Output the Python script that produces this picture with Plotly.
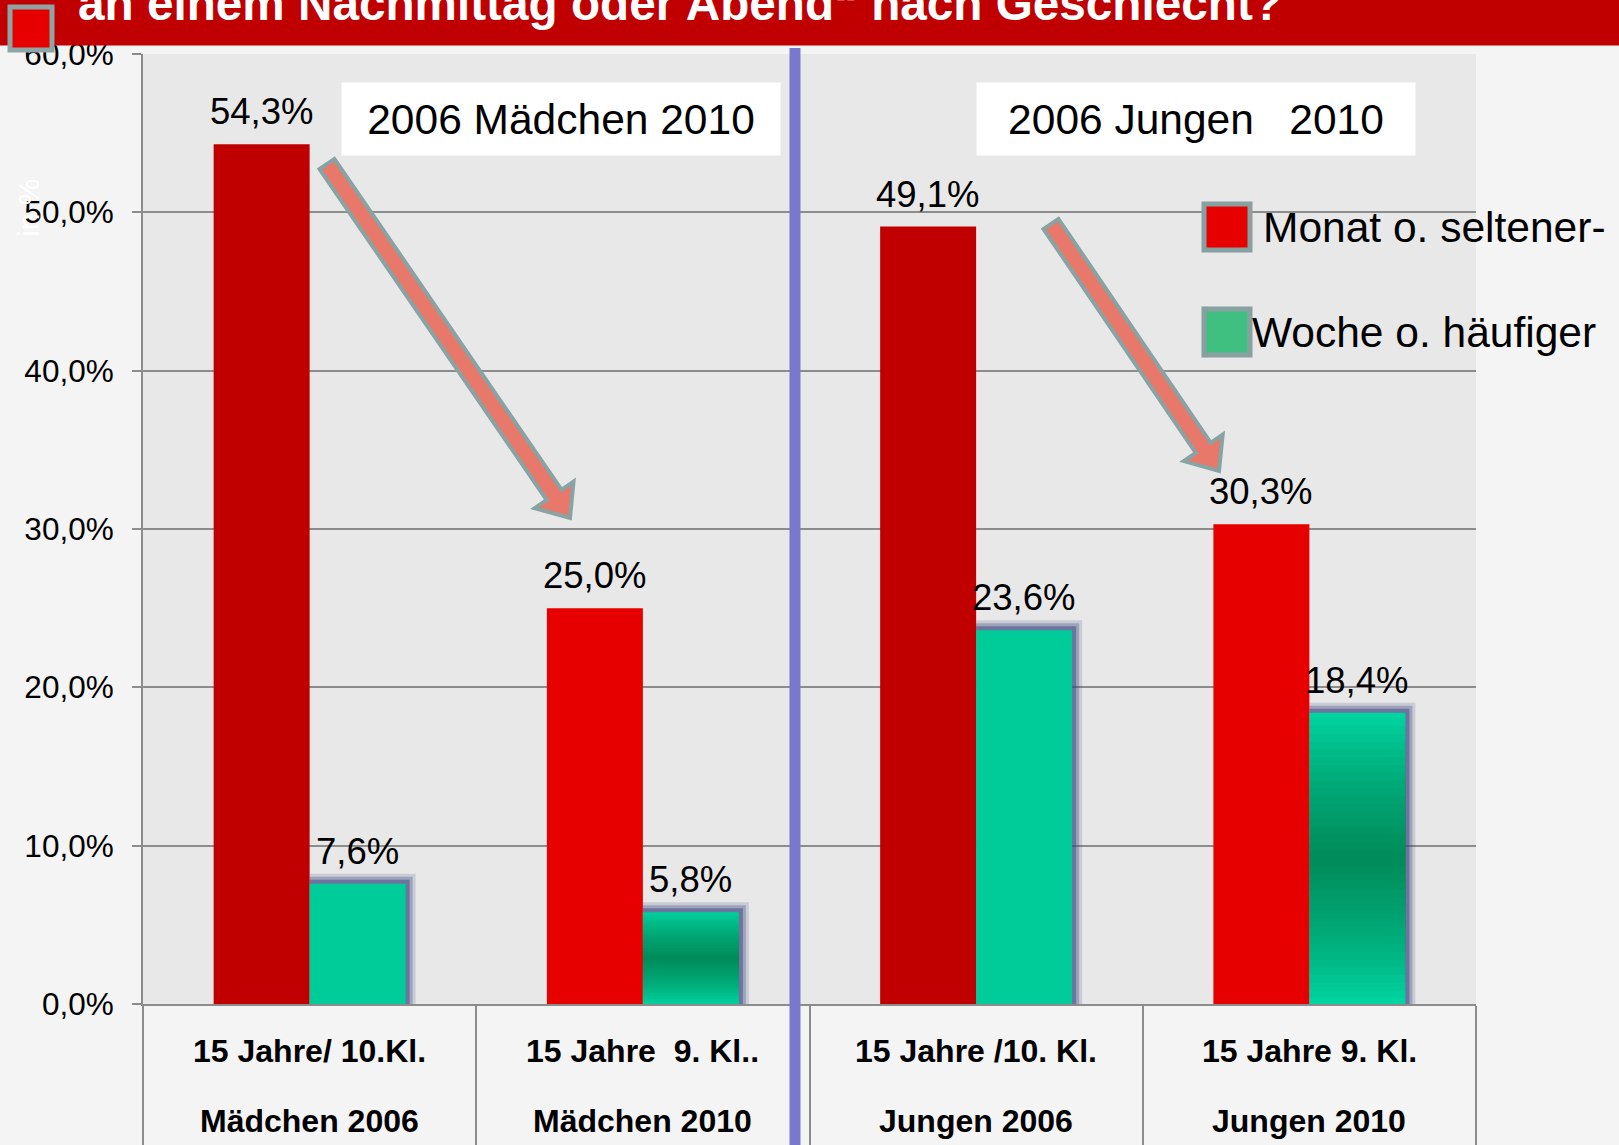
import plotly.graph_objects as go

# data
categories = ["Mädchen 2006", "Mädchen 2010", "Jungen 2006", "Jungen 2010"]
line1_labels = ["15 Jahre/ 10.Kl.", "15 Jahre\u00a0\u00a09. Kl..", "15 Jahre /10. Kl.", "15 Jahre 9. Kl."]
monat_values = [54.3, 25.0, 49.1, 30.3]
woche_values = [7.6, 5.8, 23.6, 18.4]
series_names = ["Monat o. seltener-", "Woche o. häufiger"]
box_labels = ["2006 Mädchen 2010", "2006 Jungen\u00a0\u00a0\u00a02010"]
title_text = "an einem Nachmittag oder Abend\u201c nach Geschlecht?"

# page geometry (pixels)
W, H = 1619, 1145
L, R, T, B = 143, 143, 54, 141
PW, PH = W - L - R, H - T - B
FONT = "Liberation Sans, Arial, sans-serif"

red_cols = ["#C00000", "#E60000", "#C00000", "#E60000"]
green_cols = ["#00CC99", "#00D4A0", "#00CC99", "#00D4A0"]
BAR_W = 96 / (PW / 4)  # bar width in category units
PX_Y = 60 / PH  # one pixel in y data units


def px_x(x):
    return (x - L) / PW


def px_y(y):
    return (T + PH - y) / PH


def fmt(v):
    return f"{v:.1f}".replace(".", ",") + "%"


def block_arrow(tail, tip, shaft=18, head=47, head_len=28):
    import math
    dx, dy = tip[0] - tail[0], tip[1] - tail[1]
    n = math.hypot(dx, dy)
    ux, uy = dx / n, dy / n
    nx, ny = -uy, ux
    bx, by = tip[0] - ux * head_len, tip[1] - uy * head_len
    pts = [
        (tail[0] + nx * shaft / 2, tail[1] + ny * shaft / 2),
        (bx + nx * shaft / 2, by + ny * shaft / 2),
        (bx + nx * head / 2, by + ny * head / 2),
        tip,
        (bx - nx * head / 2, by - ny * head / 2),
        (bx - nx * shaft / 2, by - ny * shaft / 2),
        (tail[0] - nx * shaft / 2, tail[1] - ny * shaft / 2),
    ]
    return "M " + " L ".join(f"{px_x(x):.5f},{px_y(y):.5f}" for x, y in pts) + " Z"


fig = go.Figure()
fig.add_trace(go.Bar(x=categories, y=monat_values, name=series_names[0],
                     marker=dict(color=red_cols, line=dict(width=0))))
fig.add_trace(go.Bar(x=categories, y=woche_values, name=series_names[1],
                     marker=dict(color=green_cols, line=dict(width=0))))

shapes = []
# glow around the green bars
for i, v in enumerate(woche_values):
    for pad, op in [(10, 0.18), (7, 0.3), (4, 0.5)]:
        shapes.append(dict(type="rect", xref="x", yref="y", layer="between",
                           x0=i, x1=i + BAR_W + pad / (PW / 4),
                           y0=-pad * 0.4 * PX_Y, y1=v + pad * PX_Y,
                           fillcolor=f"rgba(60,70,130,{op})", line=dict(width=0)))

# darker centre on the 2010 green bars (radial shading)
for i in (1, 3):
    v = woche_values[i]
    half = min(v / 2, 140 * PX_Y)
    n = 18
    for k in range(n):
        h = half * (1 - k / n)
        shapes.append(dict(type="rect", xref="x", yref="y", layer="above",
                           x0=i, x1=i + BAR_W, y0=v / 2 - h, y1=v / 2 + h,
                           fillcolor="rgba(0,90,55,0.045)", line=dict(width=0)))

# separator between girls and boys
shapes.append(dict(type="line", xref="paper", yref="paper",
                   x0=px_x(795), x1=px_x(795), y0=px_y(H + 2), y1=px_y(48),
                   line=dict(color="#7878CC", width=11), layer="above"))

# arrows
for tail, tip in [((327, 164), (570, 518)), ((1051, 224), (1219, 471))]:
    shapes.append(dict(type="path", xref="paper", yref="paper", layer="above",
                       path=block_arrow(tail, tip),
                       fillcolor="#E8796A", line=dict(color="#87A3A3", width=4)))

# title bar + icon
shapes.append(dict(type="rect", xref="paper", yref="paper", layer="above",
                   x0=px_x(-5), x1=px_x(W + 5), y0=px_y(45.5), y1=px_y(-5),
                   fillcolor="#C00000", line=dict(width=0)))
shapes.append(dict(type="rect", xref="paper", yref="paper", layer="above",
                   x0=px_x(10), x1=px_x(52), y0=px_y(50), y1=px_y(7),
                   fillcolor="#E60000", line=dict(color="#8FA5A5", width=5)))

# legend squares
for yc, col in [(227, "#E60000"), (332, "#40C080")]:
    shapes.append(dict(type="rect", xref="paper", yref="paper", layer="above",
                       x0=px_x(1204), x1=px_x(1250), y0=px_y(yc + 23), y1=px_y(yc - 23),
                       fillcolor=col, line=dict(color="#87A0A0", width=5)))

annotations = []
# value labels
for i, v in enumerate(monat_values):
    annotations.append(dict(x=i - BAR_W / 2, y=v, xref="x", yref="y", text=fmt(v),
                            showarrow=False, yanchor="bottom", yshift=10,
                            font=dict(size=36.5, color="black", family=FONT)))
for i, v in enumerate(woche_values):
    annotations.append(dict(x=i + BAR_W / 2, y=v, xref="x", yref="y", text=fmt(v),
                            showarrow=False, yanchor="bottom", yshift=10,
                            font=dict(size=36.5, color="black", family=FONT)))

# category labels, two lines
for c, l1 in zip(categories, line1_labels):
    annotations.append(dict(x=c, y=px_y(1051), xref="x", yref="paper", text=f"<b>{l1}</b>",
                            showarrow=False, yanchor="middle",
                            font=dict(size=32, color="black", family=FONT)))
    annotations.append(dict(x=c, y=px_y(1121), xref="x", yref="paper", text=f"<b>{c}</b>",
                            showarrow=False, yanchor="middle",
                            font=dict(size=32, color="black", family=FONT)))

# white boxes on top
for xc, txt in zip([561, 1196], box_labels):
    annotations.append(dict(x=px_x(xc), y=px_y(119), xref="paper", yref="paper", text=txt,
                            showarrow=False, bgcolor="white", width=438, height=72,
                            borderpad=0, xanchor="center", yanchor="middle",
                            font=dict(size=42.5, color="black", family=FONT)))

# legend text
annotations.append(dict(x=px_x(1261), y=px_y(228), xref="paper", yref="paper",
                        text=series_names[0], showarrow=False, xanchor="left",
                        yanchor="middle", font=dict(size=42.5, color="black", family=FONT)))
annotations.append(dict(x=px_x(1250), y=px_y(332), xref="paper", yref="paper",
                        text=series_names[1], showarrow=False, xanchor="left",
                        yanchor="middle", font=dict(size=42.5, color="black", family=FONT)))

# title (cut off at the top like the slide)
annotations.append(dict(x=px_x(76), y=px_y(3.5), xref="paper", yref="paper",
                        text=f"<b>{title_text}</b>", showarrow=False, xanchor="left",
                        yanchor="middle", font=dict(size=47.7, color="white", family=FONT)))

# faint axis title
annotations.append(dict(x=px_x(28), y=px_y(208), xref="paper", yref="paper",
                        text="in %", textangle=-90, showarrow=False,
                        xanchor="center", yanchor="middle",
                        font=dict(size=30, color="white", family=FONT)))

fig.update_layout(
    width=W, height=H,
    margin=dict(l=L, r=R, t=T, b=B, autoexpand=False),
    paper_bgcolor="#F4F4F4",
    plot_bgcolor="#E8E8E8",
    barmode="group",
    bargap=0.424,
    bargroupgap=0,
    showlegend=False,
    separators=",.",
    font=dict(family=FONT, color="black"),
    shapes=shapes,
    annotations=annotations,
    xaxis=dict(
        showticklabels=False, automargin=False,
        ticks="outside", tickson="boundaries", ticklen=B,
        tickcolor="#8C8C8C", tickwidth=2,
        showline=True, linecolor="#8C8C8C", linewidth=2,
        showgrid=False,
    ),
    yaxis=dict(
        range=[0, 60], dtick=10, tickformat=".1f", ticksuffix="%",
        automargin=False,
        tickfont=dict(size=31.5, color="black", family=FONT),
        ticks="outside", ticklen=9, tickcolor="#8C8C8C", tickwidth=2,
        ticklabelstandoff=12,
        showline=True, linecolor="#8C8C8C", linewidth=2,
        showgrid=True, gridcolor="#8C8C8C", gridwidth=2,
        zeroline=False,
    ),
)

fig.write_html("out.html", config={"displayModeBar": False},
               post_script="document.body.style.margin='0';")
